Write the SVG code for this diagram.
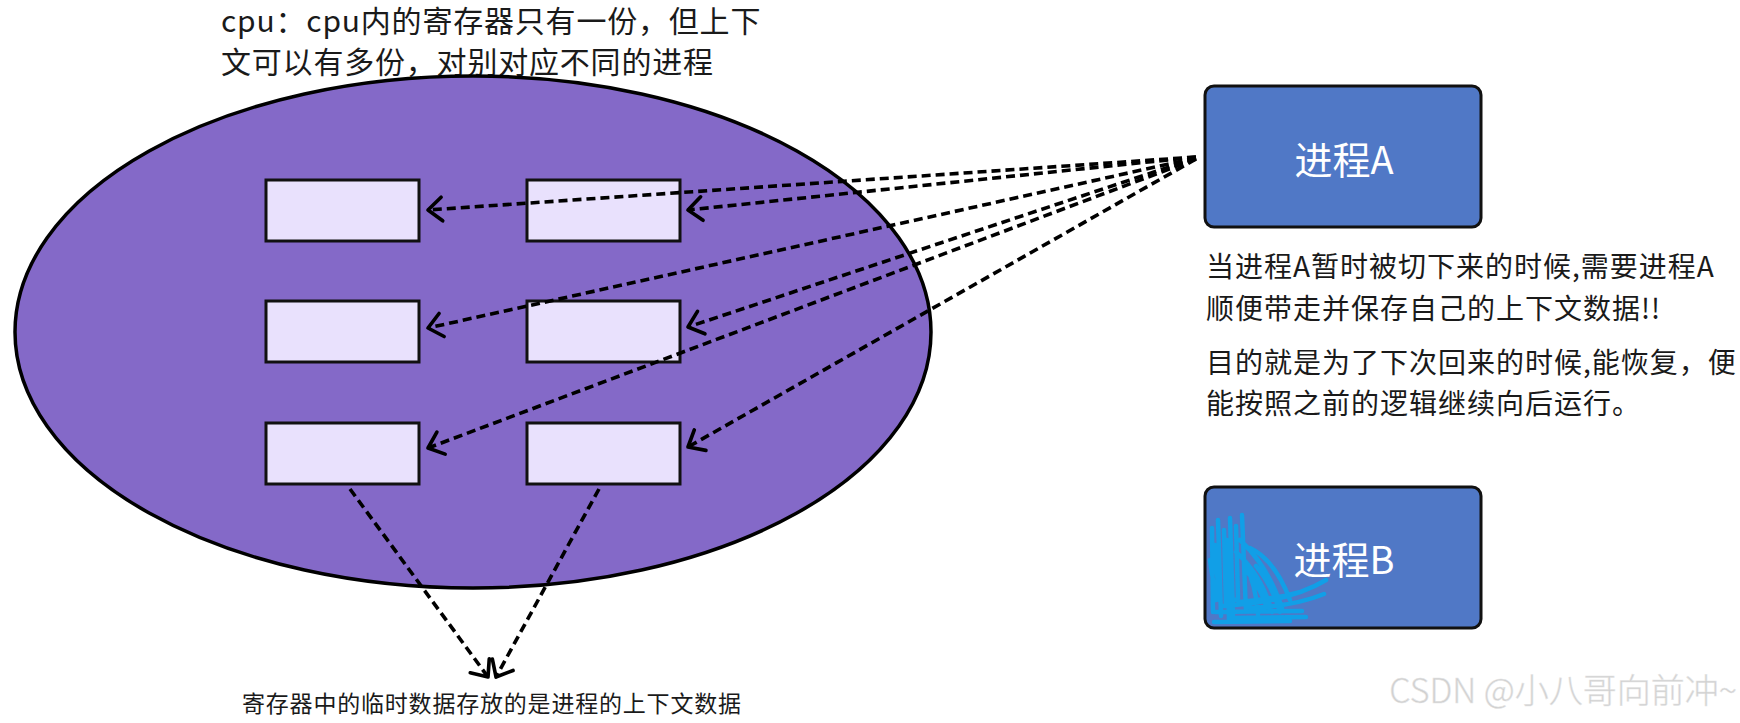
<svg xmlns="http://www.w3.org/2000/svg" width="1740" height="723" viewBox="0 0 1740 723">
<defs>
<style>
.txt{font-family:"Noto Sans CJK SC","Noto Sans",sans-serif;fill:#1a1a1a;}
.reg{fill:#E9E1FD;stroke:#111;stroke-width:3;}
.proc{fill:#5078C6;stroke:#111;stroke-width:3;}
.ptxt{font-family:"Noto Sans CJK SC","Noto Sans",sans-serif;fill:#fff;font-size:38px;text-anchor:middle;}
.conn{fill:none;stroke:#000;stroke-width:3.6;stroke-dasharray:9 5;marker-end:url(#arr);}
.scrib{fill:none;stroke:#0AA3EA;stroke-width:4.5;stroke-linecap:round;stroke-linejoin:round;opacity:0.9;}
</style>
<marker id="arr" markerUnits="userSpaceOnUse" markerWidth="30" markerHeight="30" viewBox="-16 -14 20 28" refX="0" refY="0" orient="auto" overflow="visible">
<path d="M-13,-11 L0,0 L-13,11" fill="none" stroke="#000" stroke-width="3.4" stroke-linecap="round" stroke-linejoin="round"/>
</marker>
</defs>
<rect width="1740" height="723" fill="#fff"/>

<g id="top-note">
<text class="txt" x="221" y="32" font-size="30" letter-spacing="0.8">cpu：cpu内的寄存器只有一份，但上下</text>
<text class="txt" x="221" y="73" font-size="30" letter-spacing="0.8">文可以有多份，对别对应不同的进程</text>
</g>

<g id="cpu">
<ellipse cx="473" cy="332" rx="458" ry="256" fill="#8469C8" stroke="#000" stroke-width="3.5"/>
</g>

<g id="reg-1-1"><rect class="reg" x="266" y="180" width="153" height="61"/></g>
<g id="reg-1-2"><rect class="reg" x="527" y="180" width="153" height="61"/></g>
<g id="reg-2-1"><rect class="reg" x="266" y="301" width="153" height="61"/></g>
<g id="reg-2-2"><rect class="reg" x="527" y="301" width="153" height="61"/></g>
<g id="reg-3-1"><rect class="reg" x="266" y="423" width="153" height="61"/></g>
<g id="reg-3-2"><rect class="reg" x="527" y="423" width="153" height="61"/></g>

<g id="procA">
<rect class="proc" x="1205" y="86" width="276" height="141" rx="9"/>
<text class="ptxt" x="1344" y="174">进程A</text>
</g>

<g id="procB">
<rect class="proc" x="1205" y="487" width="276" height="141" rx="9"/>
<path class="scrib" d="M1212,528 L1213,612 M1218,520 L1221,616 M1224,530 L1226,606 M1230,518 L1233,615 M1236,526 L1238,598 M1242,515 L1246,612 M1215,545 L1219,600 M1227,540 L1229,620 M1210,560 L1216,600 M1240,540 Q1268,566 1282,608 M1236,552 Q1262,576 1272,612 M1244,560 Q1256,585 1258,614 M1250,548 Q1275,560 1290,600 M1246,570 Q1262,590 1266,606 M1256,566 Q1272,585 1280,612 M1215,612 L1302,611 M1222,606 Q1290,602 1326,580 M1230,618 L1306,617 M1240,602 Q1300,596 1318,584 M1226,596 L1250,606 M1214,622 L1290,621 M1250,608 Q1295,606 1324,594"/>
<text class="ptxt" x="1344" y="574">进程B</text>
</g>

<g id="note-right">
<text class="txt" x="1206" y="277" font-size="28" letter-spacing="1">当进程A暂时被切下来的时候,需要进程A</text>
<text class="txt" x="1206" y="319" font-size="28" letter-spacing="1">顺便带走并保存自己的上下文数据!!</text>
<text class="txt" x="1206" y="373" font-size="28" letter-spacing="1">目的就是为了下次回来的时候,能恢复，便</text>
<text class="txt" x="1206" y="414" font-size="28" letter-spacing="1">能按照之前的逻辑继续向后运行。</text>
</g>

<g id="note-bottom">
<text class="txt" x="242" y="712" font-size="23" letter-spacing="0.8">寄存器中的临时数据存放的是进程的上下文数据</text>
</g>

<g id="connectors">
<path class="conn" d="M1196,157 L428,210"/>
<path class="conn" d="M1196,157 L688,210"/>
<path class="conn" d="M1196,158 L428,328"/>
<path class="conn" d="M1196,158 L688,327"/>
<path class="conn" d="M1196,159 L428,448"/>
<path class="conn" d="M1196,159 L688,447"/>
<path class="conn" stroke-dasharray="8 6" d="M350,489 L488,677"/>
<path class="conn" stroke-dasharray="8 6" d="M599,489 L496,677"/>
</g>

<g id="watermark">
<text x="1737" y="703" font-family="'Noto Sans CJK SC','Noto Sans',sans-serif" font-size="34" font-weight="300" fill="#cfcfcf" stroke="#e6e6e6" stroke-width="0.5" text-anchor="end">CSDN @小八哥向前冲~</text>
</g>
</svg>
